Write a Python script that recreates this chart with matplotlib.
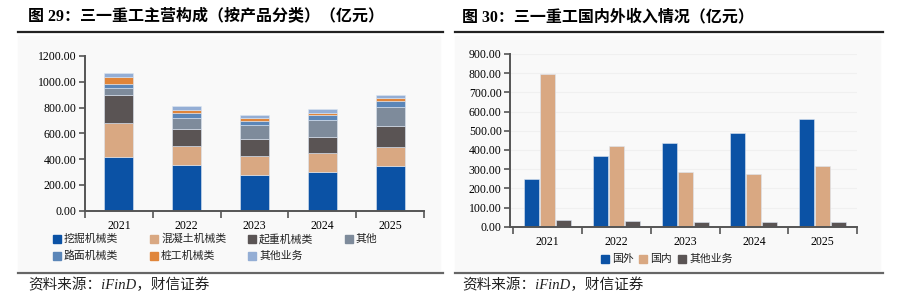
import numpy as np
import matplotlib.pyplot as plt
from matplotlib.patches import Rectangle
from matplotlib.lines import Line2D

years = ['2021', '2022', '2023', '2024', '2025']

# left chart: revenue by product (100m CNY)
excavator = [414, 354, 274, 300, 344]
concrete = [266, 148, 150, 145, 153]
crane = [218, 132, 134, 129, 157]
other = [57, 83, 107, 130, 147]
road = [30, 43, 33, 37, 48]
piling = [55, 24, 21, 20, 23]
other_biz = [28, 28, 26, 27, 26]

prod_names = ['挖掘机械类', '混凝土机械类', '起重机械类', '其他', '路面机械类', '桩工机械类', '其他业务']
prod_colors = ['#0b52a5', '#d9a882', '#5a5454', '#7e8b9b', '#5b86b8', '#e0853a', '#94aed5']

# right chart: overseas / domestic
overseas = [250, 370, 436, 488, 563]
domestic = [794, 419, 287, 276, 318]
other_rev = [35, 30, 26, 26, 26]
reg_names = ['国外', '国内', '其他业务']
reg_colors = ['#0b52a5', '#d9a882', '#5a5454']

plt.rcParams['font.family'] = ['Liberation Serif', 'Noto Sans CJK SC', 'DejaVu Sans']
W, H = 900, 305
fig = plt.figure(figsize=(W / 100, H / 100), dpi=100)

def fx(px):
    return px / W

def fy(py):
    return 1 - py / H

# faint panel backgrounds
fig.add_artist(Rectangle((fx(18), fy(270)), fx(422), fy(36) - fy(270), color='#f9f9f9', zorder=0))
fig.add_artist(Rectangle((fx(455), fy(270)), fx(425), fy(36) - fy(270), color='#f9f9f9', zorder=0))

def style_axes(ax, top):
    ax.set_facecolor('none')
    for s in ['top', 'right']:
        ax.spines[s].set_visible(False)
    ax.spines['left'].set_color('#555555')
    ax.spines['bottom'].set_color('#555555')
    ax.spines['left'].set_linewidth(1.4)
    ax.spines['bottom'].set_linewidth(1.4)
    ax.set_xlim(-0.5, 4.5)
    ax.set_ylim(0, top)
    ax.set_xticks(np.arange(-0.5, 5, 1))
    ax.set_xticklabels([])
    ax.set_xticks(range(5), minor=True)
    ax.set_xticklabels(years, minor=True, fontsize=8.5)
    ax.tick_params(axis='x', which='major', length=5, width=1.2, color='#555555')
    ax.tick_params(axis='x', which='minor', length=0, pad=7)
    ax.tick_params(axis='y', length=4, width=1.2, color='#555555', labelsize=8.5, pad=2)
    ax.yaxis.set_major_formatter(plt.FuncFormatter(lambda v, p: f'{v:.2f}'))

# ---- left: stacked bars
ax1 = fig.add_axes([fx(85), fy(210.7), fx(339), fy(56) - fy(210.7)])
series = [excavator, concrete, crane, other, road, piling, other_biz]
x = np.arange(len(years))
bottom = np.zeros(len(years))
for vals, c in zip(series, prod_colors):
    ax1.bar(x, vals, 0.43, bottom=bottom, color=c, edgecolor='#dde6f2', linewidth=0.4, zorder=2)
    bottom += np.array(vals)
style_axes(ax1, 1200)
ax1.set_yticks(np.arange(0, 1201, 200))

# ---- right: grouped bars
ax2 = fig.add_axes([fx(510), fy(226.7), fx(347), fy(54) - fy(226.7)])
for i, (vals, c) in enumerate(zip([overseas, domestic, other_rev], reg_colors)):
    ax2.bar(x + (i - 1) * 0.233, vals, 0.22, color=c, edgecolor='#dde6f2', linewidth=0.4, zorder=2)
style_axes(ax2, 900)
ax2.set_yticks(np.arange(0, 901, 100))
ax2.set_xlim(-0.55, 4.5)
ax2.grid(axis='y', color='#f0f0f0', linewidth=0.8, zorder=0)

# ---- legends (manual placement)
def legend_item(px, py, color, label):
    fig.add_artist(Rectangle((fx(px - 4), fy(py + 4)), fx(8), fy(py - 4) - fy(py + 4), color=color))
    fig.text(fx(px + 7), fy(py), label, fontsize=7.8, va='center', ha='left',
             family=['Noto Sans CJK SC'], color='#222222')

lx = [53, 150, 248, 345]
order = [(0, 0, 0), (1, 1, 0), (2, 2, 0), (3, 3, 0), (4, 0, 1), (5, 1, 1), (6, 2, 1)]
for k, col, row in order:
    legend_item(lx[col] + 4, 239 + row * 16.5, prod_colors[k], prod_names[k])

rx = [605, 643, 682]
for k in range(3):
    legend_item(rx[k], 259, reg_colors[k], reg_names[k])

# ---- titles, rules, source
fig.text(fx(28), fy(17), '图 29：三一重工主营构成（按产品分类）（亿元）', fontsize=11.5,
         fontweight='bold', va='center', ha='left')
fig.text(fx(462), fy(17), '图 30：三一重工国内外收入情况（亿元）', fontsize=11.5,
         fontweight='bold', va='center', ha='left')
for x0, x1 in [(18, 443), (455, 883)]:
    fig.add_artist(Line2D([fx(x0), fx(x1)], [fy(32), fy(32)], color='#222222', linewidth=1.6))
    fig.add_artist(Line2D([fx(x0), fx(x1)], [fy(273), fy(273)], color='#666666', linewidth=1.6))
for px in [28, 462]:
    fig.text(fx(px), fy(285), '资料来源：iFinD，财信证券', fontsize=10.5, style='italic',
             va='center', ha='left', color='#222222')

fig.savefig('out.png', dpi=100)
